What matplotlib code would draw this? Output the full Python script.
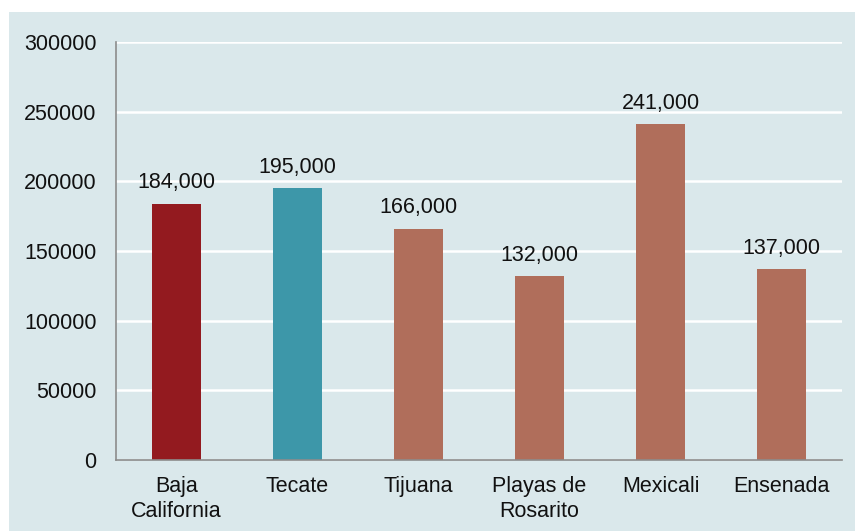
import matplotlib
matplotlib.use("Agg")
import matplotlib.pyplot as plt
from matplotlib.patches import Rectangle

# Datos del gráfico
municipios = ["Baja\nCalifornia", "Tecate", "Tijuana", "Playas de\nRosarito", "Mexicali", "Ensenada"]
valores = [184000, 195000, 166000, 132000, 241000, 137000]
colores = ["#931a1f", "#3d97a9", "#b06e5b", "#b06e5b", "#b06e5b", "#b06e5b"]
etiquetas = ["184,000", "195,000", "166,000", "132,000", "241,000", "137,000"]
marcas_y = [0, 50000, 100000, 150000, 200000, 250000, 300000]

fondo = "#dae8eb"
tam = 15.5

plt.rcParams["font.family"] = ["Liberation Sans", "DejaVu Sans"]

fig = plt.figure(figsize=(8.55, 5.31), dpi=100)
fig.patch.set_facecolor("white")
fig.add_artist(Rectangle((9 / 855, 0), 1 - 9 / 855, (531 - 12) / 531,
                         transform=fig.transFigure, facecolor=fondo,
                         edgecolor="none", zorder=-10))

ax = fig.add_axes([116 / 855, 71 / 531, 726 / 855, 418 / 531])
ax.set_facecolor(fondo)

x = range(len(municipios))
barras = ax.bar(x, valores, width=0.405, color=colores, zorder=3)

for barra, texto in zip(barras, etiquetas):
    ax.annotate(texto, (barra.get_x() + barra.get_width() / 2, barra.get_height()),
                xytext=(0, 7.5), textcoords="offset points",
                ha="center", va="bottom", fontsize=tam, color="#111111")

ax.set_xlim(-0.5, len(municipios) - 0.5)
ax.set_ylim(0, 300000)
ax.set_yticks(marcas_y)
ax.set_xticks(list(x))
ax.set_xticklabels(municipios, linespacing=1.28)
ax.tick_params(axis="both", length=0, labelsize=tam, colors="#111111")
ax.tick_params(axis="y", pad=14)
ax.tick_params(axis="x", pad=11.5)

ax.yaxis.grid(True, color="white", linewidth=1.8, zorder=1)
ax.set_axisbelow(True)

for lado in ["top", "right"]:
    ax.spines[lado].set_visible(False)
for lado in ["left", "bottom"]:
    ax.spines[lado].set_color("#8c8c8c")
    ax.spines[lado].set_linewidth(1.2)
    ax.spines[lado].set_zorder(4)

fig.savefig("out.png", dpi=100, facecolor=fig.get_facecolor())
